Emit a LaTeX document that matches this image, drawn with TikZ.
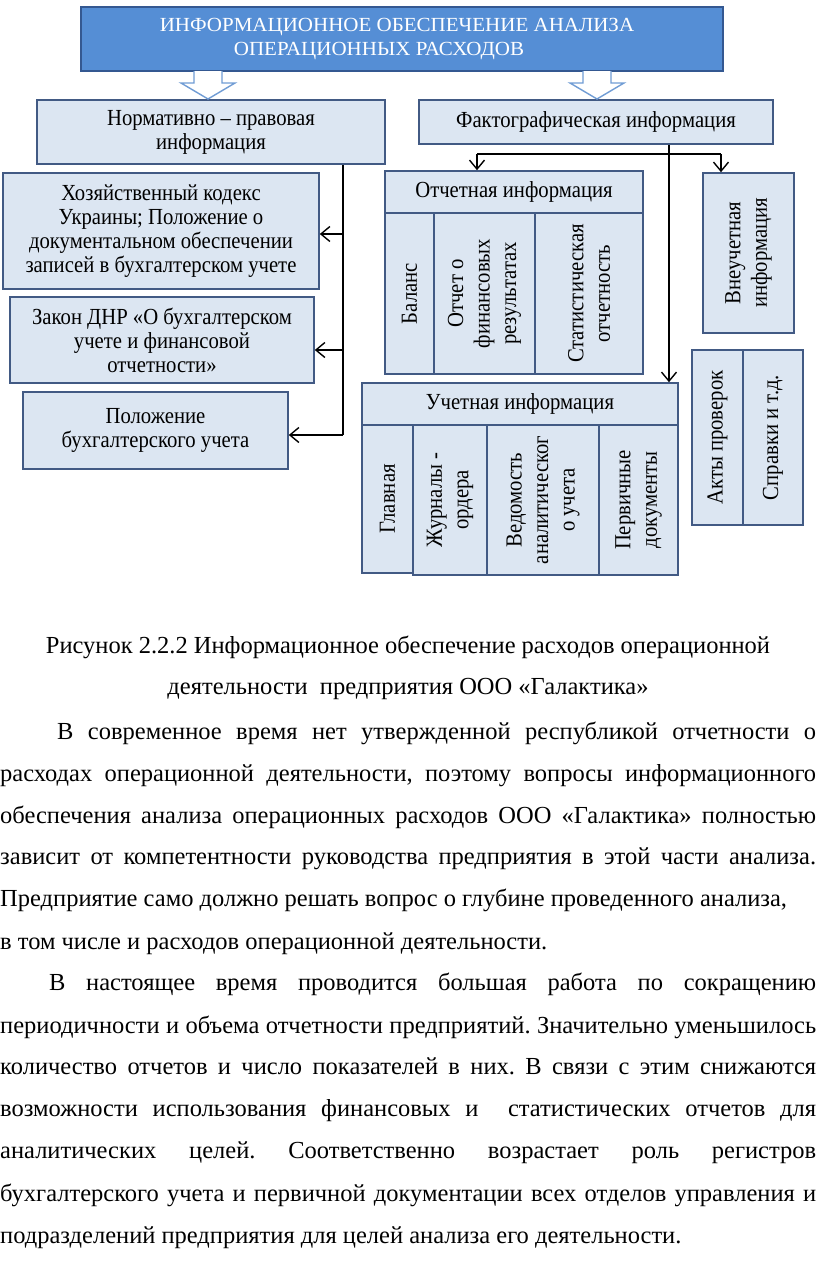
\documentclass[tikz,border=0pt]{standalone}
\usepackage{fontspec}
\setmainfont{Liberation Serif}
\newfontfamily\diagfont[FakeStretch=0.9]{Liberation Serif}
\newfontfamily\titlefont[FakeStretch=1.05]{Liberation Serif}
\newfontfamily\bodyfont{Liberation Serif}
\usepackage{xcolor}
\usetikzlibrary{positioning,arrows.meta,calc}
\frenchspacing

\definecolor{titlefill}{RGB}{85,142,213}
\definecolor{titleline}{RGB}{52,88,145}
\definecolor{boxfill}{RGB}{220,230,242}
\definecolor{boxline}{RGB}{66,90,132}
\definecolor{hollowline}{RGB}{112,156,212}

\begin{document}
\begin{tikzpicture}[x=1pt,y=-1pt,
        titlebox/.style={rectangle, draw=titleline, fill=titlefill, line width=1.6, text=white, align=center, inner sep=0pt, font=\titlefont\fontsize{20}{24}\selectfont},
        infobox/.style={rectangle, draw=boxline, fill=boxfill, line width=1.6, align=center, inner sep=0pt, font=\diagfont\fontsize{23}{24}\selectfont},
        colbox/.style={infobox, rotate=90, font=\diagfont\fontsize{23}{26.5}\selectfont},
        conn/.style={line width=1.4, black},
        arrow/.style={conn, -{Straight Barb[length=9pt,width=15pt,line width=1.4pt]}},
        hollow/.style={draw=hollowline, fill=white, line width=1.4, line join=miter},
        bodytext/.style={anchor=base west, inner sep=0pt, font=\bodyfont\fontsize{24.5}{28}\selectfont},
        captext/.style={anchor=base, inner sep=0pt, font=\bodyfont\fontsize{24.5}{28}\selectfont},
      ]
      \useasboundingbox (0,0) rectangle (816,1266);
      % Title and the two main groups
      \node [titlebox, minimum width=642, minimum height=64] (title) at (402,39) {ИНФОРМАЦИОННОЕ ОБЕСПЕЧЕНИЕ АНАЛИЗА\hspace*{10pt}\\ОПЕРАЦИОННЫХ РАСХОДОВ\hspace*{46pt}};
      \node [infobox, minimum width=348, minimum height=64] (norm) at (211,132) {Нормативно – правовая\\информация};
      \node [infobox, minimum width=354, minimum height=44] (fact) at (596,122) {Фактографическая информация};
      \foreach \ax in {208,597}
        \draw [hollow] (\ax-14,71) -- (\ax-14,83) -- (\ax-27,83) -- (\ax,99) -- (\ax+27,83) -- (\ax+14,83) -- (\ax+14,71);
      % Normative documents
      \node [infobox, minimum width=316, minimum height=116] (code) at (161,231) {Хозяйственный кодекс\\Украины; Положение о\\документальном обеспечении\\записей в бухгалтерском учете};
      \node [infobox, minimum width=304, minimum height=86] (law) at (162,340) {Закон ДНР «О бухгалтерском\\учете и финансовой\\отчетности»};
      \node [infobox, minimum width=265, minimum height=77] (reg) at (155.5,430.5) {Положение\\бухгалтерского учета};
      % Reporting information
      \node [infobox, minimum width=258, minimum height=42] (rephead) at (514,192) {Отчетная информация};
      \node [colbox, minimum width=161, minimum height=49] (bal) at (409.5,293.5) {Баланс};
      \node [colbox, minimum width=161, minimum height=101] (finres) at (484.5,293.5) {Отчет о\\финансовых\\результатах};
      \node [colbox, minimum width=161, minimum height=108] (stat) at (589,293.5) {Статистическая\\отчетность};
      % Off-book information
      \node [colbox, minimum width=160, minimum height=91] (extra) at (748.5,253) {Внеучетная\\информация};
      \node [colbox, minimum width=175, minimum height=51] (acts) at (717.5,437.5) {Акты проверок};
      \node [colbox, minimum width=175, minimum height=60] (certs) at (773,437.5) {Справки и т.д.};
      % Accounting information
      \node [infobox, minimum width=316, minimum height=42] (acchead) at (520,404) {Учетная информация};
      \node [colbox, minimum width=148, minimum height=51] (ledger) at (387.5,499) {Главная};
      \node [colbox, minimum width=150, minimum height=74] (journals) at (450,500) {Журналы -\\ордера};
      \node [colbox, minimum width=150, minimum height=112] (analyt) at (543,500) {Ведомость\\аналитическ\-ог\\о учета};
      \node [colbox, minimum width=150, minimum height=79] (primary) at (638.5,500) {Первичные\\документы};
      % Left connectors
      \coordinate (j1) at (343,234);
      \coordinate (j2) at (343,350);
      \coordinate (j3) at (343,435);
      \draw [conn] (norm.south -| j1) -- (j3);
      \draw [arrow] (j1) -- (j1 -| code.east);
      \draw [arrow] (j2) -- (j2 -| law.east);
      \draw [arrow] (j3) -- (j3 -| reg.east);
      % Right connectors (rotated boxes: east is the top side)
      \coordinate (ftrunk) at (669,154);
      \coordinate (fl) at (477,154);
      \coordinate (fr) at (721,154);
      \draw [arrow] (fact.south -| ftrunk) -- (ftrunk |- acchead.north);
      \draw [conn] (fl) -- (fr);
      \draw [arrow] (fl) -- (fl |- rephead.north);
      \draw [arrow] (fr) -- (fr |- extra.east);
      % Caption
      \node [captext] (cap1) at (408,653) {Рисунок 2.2.2 Информационное обеспечение расходов операционной};
      \node [captext] (cap2) at (408,694) {деятельности\ \ предприятия ООО «Галактика»};
      % Body text
      \node [bodytext] (l1) at (57,739) {\makebox[759pt][s]{В современное время нет утвержденной республикой отчетности о}};
      \node [bodytext] (l2) at (0,781) {\makebox[816pt][s]{расходах операционной деятельности, поэтому вопросы информационного}};
      \node [bodytext] (l3) at (0,823) {\makebox[816pt][s]{обеспечения анализа операционных расходов ООО «Галактика» полностью}};
      \node [bodytext] (l4) at (0,864) {\makebox[816pt][s]{зависит от компетентности руководства предприятия в этой части анализа.}};
      \node [bodytext] (l5) at (0,906) {Предприятие само должно решать вопрос о глубине проведенного анализа,};
      \node [bodytext] (l6) at (0,949) {в том числе и расходов операционной деятельности.};
      \node [bodytext] (l7) at (49,990) {\makebox[767pt][s]{В настоящее время проводится большая работа по сокращению}};
      \node [bodytext] (l8) at (0,1033) {\makebox[816pt][s]{периодичности и объема отчетности предприятий. Значительно уменьшилось}};
      \node [bodytext] (l9) at (0,1074) {\makebox[816pt][s]{количество отчетов и число показателей в них. В связи с этим снижаются}};
      \node [bodytext] (l10) at (0,1116) {\makebox[816pt][s]{возможности использования финансовых и\ \ статистических отчетов для}};
      \node [bodytext] (l11) at (0,1158) {\makebox[816pt][s]{аналитических целей. Соответственно возрастает роль регистров}};
      \node [bodytext] (l12) at (0,1201) {\makebox[816pt][s]{бухгалтерского учета и первичной документации всех отделов управления и}};
      \node [bodytext] (l13) at (0,1243) {подразделений предприятия для целей анализа его деятельности.};
    \end{tikzpicture}
\end{document}
